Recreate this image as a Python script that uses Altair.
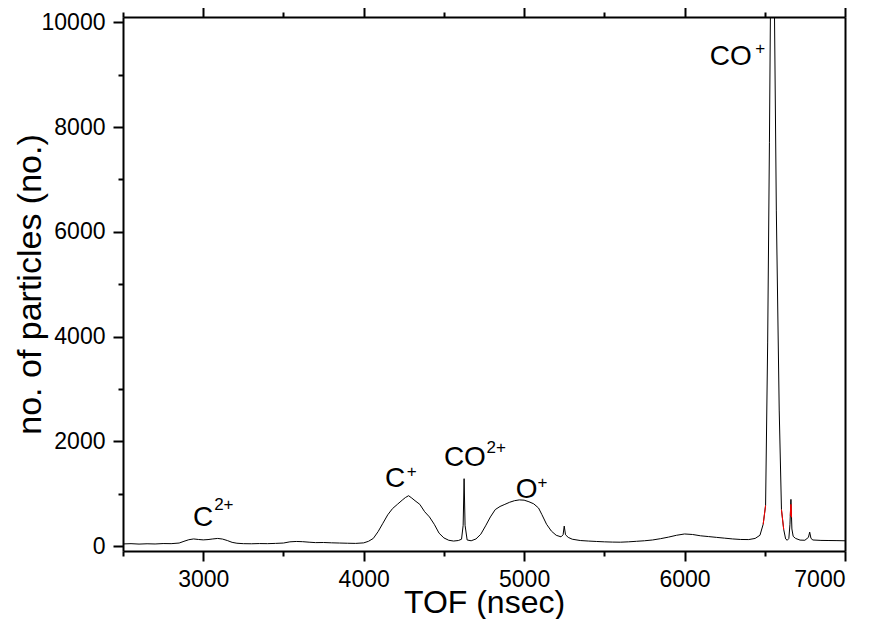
import altair as alt
import pandas as pd

# ---- data ----
tof = [2500, 2550, 2600, 2650, 2700, 2750, 2800, 2850, 2880, 2910, 2940, 2970,
       3000, 3030, 3060, 3090, 3120, 3150, 3180, 3210, 3250, 3300, 3350, 3400,
       3450, 3500, 3540, 3580, 3620, 3660, 3700, 3750, 3800, 3850, 3900, 3950,
       4000, 4030, 4060, 4090, 4120, 4150, 4180, 4210, 4240, 4260, 4280, 4300,
       4320, 4350, 4380, 4410, 4440, 4470, 4500, 4530, 4560, 4590, 4610, 4620,
       4626, 4632, 4645, 4670, 4700, 4730, 4760, 4790, 4820, 4850, 4880, 4910,
       4940, 4970, 5000, 5030, 5060, 5090, 5110, 5140, 5170, 5200, 5230, 5243,
       5250, 5258, 5275, 5300, 5350, 5400, 5450, 5500, 5550, 5600, 5650, 5700,
       5750, 5800, 5850, 5900, 5950, 6000, 6050, 6100, 6150, 6200, 6250, 6300,
       6350, 6400, 6440, 6470, 6490, 6505, 6518, 6529, 6536, 6549, 6558, 6572,
       6590, 6604, 6618, 6630, 6640, 6650, 6657, 6663, 6669, 6677, 6692, 6720,
       6750, 6772, 6780, 6788, 6800, 6850, 6900, 6950, 7000]
counts = [45, 50, 42, 48, 44, 52, 50, 62, 95, 125, 140, 130,
          122, 128, 140, 150, 138, 110, 75, 58, 50, 48, 52, 50,
          55, 62, 85, 92, 88, 78, 70, 72, 66, 62, 58, 55,
          65, 95, 150, 280, 440, 600, 720, 800, 880, 930, 965, 920,
          870, 800, 660, 560, 420, 250, 160, 115, 100, 110, 135, 400,
          1290, 400, 120, 105, 140, 230, 390, 560, 700, 760, 800, 840,
          870, 885, 880, 850, 810, 730, 610, 420, 290, 210, 180, 220,
          385, 220, 170, 135, 110, 100, 92, 85, 80, 78, 85, 95,
          105, 120, 145, 175, 210, 235, 225, 200, 185, 170, 155, 140,
          130, 128, 150, 210, 420, 780, 3880, 7700, 10500, 13000, 11000, 6400,
          2600, 700, 320, 140, 115, 150, 420, 895, 330, 190, 150, 118,
          115, 170, 270, 150, 120, 112, 110, 108, 105]

red_tof = [6490, 6505, 6604, 6618, 6659, 6662, 6664, 6667]
red_counts = [420, 780, 700, 320, 580, 800, 800, 550]
red_group = ["a", "a", "b", "b", "c", "c", "d", "d"]

label_text = ["C", "C", "CO", "O", "CO"]
label_tof = [2937, 4133, 4500, 4948, 6157]
label_count = [381, 1124, 1524, 914, 9182]

sup_text = ["2+", "+", "2+", "+", "+"]
sup_tof = [3068, 4268, 4766, 5083, 6440]
sup_count = [690, 1314, 1772, 1114, 9401]

FONT = "Liberation Sans"

line_df = pd.DataFrame({"tof": tof, "count": counts})
red_df = pd.DataFrame({"tof": red_tof, "count": red_counts, "grp": red_group})
lab_df = pd.DataFrame({"tof": label_tof, "count": label_count, "txt": label_text})
sup_df = pd.DataFrame({"tof": sup_tof, "count": sup_count, "txt": sup_text})

x_scale = alt.Scale(domain=[2500, 7000], nice=False, zero=False)
y_scale = alt.Scale(domain=[-90, 10100], nice=False, zero=False)

x_ticks = list(range(2500, 7001, 500))
y_ticks = list(range(0, 10001, 1000))

x_tick_size = {"condition": {"test": "datum.value % 1000 === 0", "value": 10}, "value": 5}
y_tick_size = {"condition": {"test": "datum.value % 2000 === 0", "value": 10}, "value": 5}

main = alt.Chart(line_df).mark_line(color="black", strokeWidth=1, clip=True).encode(
    x=alt.X("tof:Q", scale=x_scale,
            axis=alt.Axis(orient="bottom", values=x_ticks, title="TOF (nsec)",
                          labelExpr="datum.value % 1000 === 0 ? datum.label : ''",
                          tickSize=x_tick_size, labelPadding=7, titlePadding=-4,
                          titleFontSize=32, format="d")),
    y=alt.Y("count:Q", scale=y_scale,
            axis=alt.Axis(orient="left", values=y_ticks, title="no. of particles (no.)",
                          labelExpr="datum.value % 2000 === 0 ? datum.label : ''",
                          tickSize=y_tick_size, labelPadding=8, titlePadding=-6,
                          titleFontSize=34, format="d")),
)

frame = alt.Chart(line_df).mark_line(strokeOpacity=0, clip=True).encode(
    x=alt.X("tof:Q", scale=x_scale,
            axis=alt.Axis(orient="top", values=x_ticks, labels=False, title=None,
                          tickSize=x_tick_size)),
    y=alt.Y("count:Q", scale=y_scale,
            axis=alt.Axis(orient="right", labels=False, ticks=False, title=None)),
)

red = alt.Chart(red_df).mark_line(color="red", strokeWidth=1, clip=True).encode(
    x=alt.X("tof:Q", scale=x_scale, axis=None),
    y=alt.Y("count:Q", scale=y_scale, axis=None),
    detail="grp:N",
)

labels = alt.Chart(lab_df).mark_text(
    align="left", baseline="alphabetic", fontSize=28, font=FONT, color="black"
).encode(
    x=alt.X("tof:Q", scale=x_scale, axis=None),
    y=alt.Y("count:Q", scale=y_scale, axis=None),
    text="txt:N",
)

sups = alt.Chart(sup_df).mark_text(
    align="left", baseline="alphabetic", fontSize=17, font=FONT, color="black"
).encode(
    x=alt.X("tof:Q", scale=x_scale, axis=None),
    y=alt.Y("count:Q", scale=y_scale, axis=None),
    text="txt:N",
)

chart = alt.layer(main, frame, red, labels, sups).resolve_axis(
    x="independent", y="independent"
).properties(
    width=722, height=534, autosize="none",
    padding={"left": 115, "top": 9, "right": 10, "bottom": 68},
).configure_view(stroke=None).configure_axis(
    domainColor="black", domainWidth=2, tickColor="black", tickWidth=2,
    labelFont=FONT, labelFontSize=23, labelColor="black",
    titleFont=FONT, titleFontWeight="normal", titleColor="black",
    grid=False,
)

chart.save("out.html", embed_options={"renderer": "svg", "actions": False})
